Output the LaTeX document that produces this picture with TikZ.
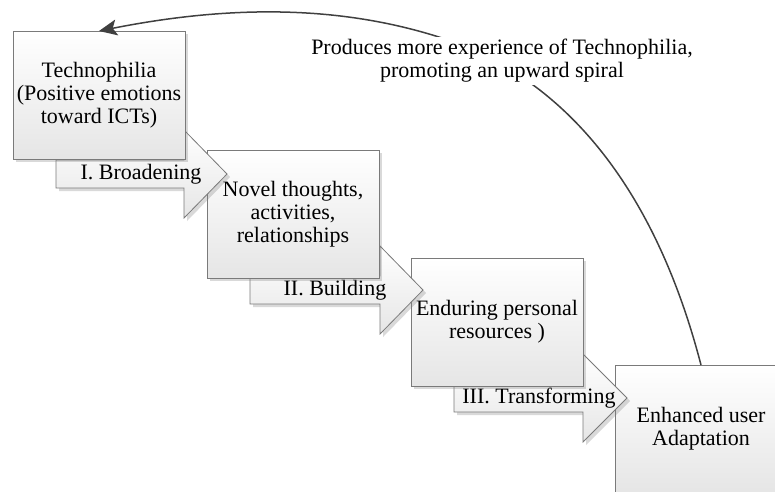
\documentclass[tikz,border=0pt]{standalone}
\usepackage{fontspec}
\setmainfont{Liberation Serif}
\usetikzlibrary{shadows,arrows.meta}
\definecolor{edgegray}{HTML}{7A7A7A}
\definecolor{curvegray}{HTML}{404040}
\tikzset{
  txt/.style={font=\fontsize{22}{23}\selectfont, align=center, inner sep=0pt},
  stagebox/.style={draw=edgegray, line width=0.8pt, top color=white, bottom color=black!10,
    minimum width=172pt, minimum height=128pt, inner sep=0pt, outer sep=0pt,
    align=center, font=\fontsize{22}{23}\selectfont,
    drop shadow={shadow xshift=3pt, shadow yshift=-3pt, opacity=0.3, fill=gray}},
  blockarrow/.style={draw=edgegray, line width=0.8pt, top color=white, bottom color=black!10,
    drop shadow={shadow xshift=3pt, shadow yshift=-3pt, opacity=0.3, fill=gray}},
  spiral/.style={draw=curvegray, line width=1.5pt, -{Stealth[length=18pt,width=16pt,inset=4pt]}}
}
\begin{document}
\begin{tikzpicture}[x=1pt,y=-1pt]
\useasboundingbox (0,0) rectangle (775,491);
\clip (0,0) rectangle (775,491);

% box 4
\node[stagebox] (b4) at (701,429) {Enhanced user\\Adaptation};
% arrow 3
\path[blockarrow] (454,384) -- (583,384) -- (583,354) -- (627,398) -- (583,442) -- (583,412) -- (454,412) -- cycle;
\node[txt] (a3) at (539,398) {III. Transforming};
% box 3
\node[stagebox] (b3) at (497,322) {Enduring personal\\resources )};
% arrow 2
\path[blockarrow] (250,276) -- (380,276) -- (380,246) -- (423,290) -- (380,334) -- (380,304) -- (250,304) -- cycle;
\node[txt] (a2) at (335,290) {II. Building};
% box 2
\node[stagebox] (b2) at (293,214) {Novel thoughts,\\activities,\\relationships};
% arrow 1
\path[blockarrow] (56,160) -- (184,160) -- (184,130) -- (227,174) -- (184,218) -- (184,188) -- (56,188) -- cycle;
\node[txt] (a1) at (141,174) {I. Broadening};
% box 1
\node[stagebox] (b1) at (99,95) {Technophilia\\(Positive emotions\\toward ICTs)};

% spiral connector
\draw[spiral] (b4.north) .. controls (645,150) and (534,68) .. (442,38)
  .. controls (340,5) and (230,5) .. (b1.north);
\node[txt, fill=white, inner sep=2pt] (lbl) at (502,61) {Produces more experience of Technophilia,\\promoting an upward spiral};
\end{tikzpicture}
\end{document}
